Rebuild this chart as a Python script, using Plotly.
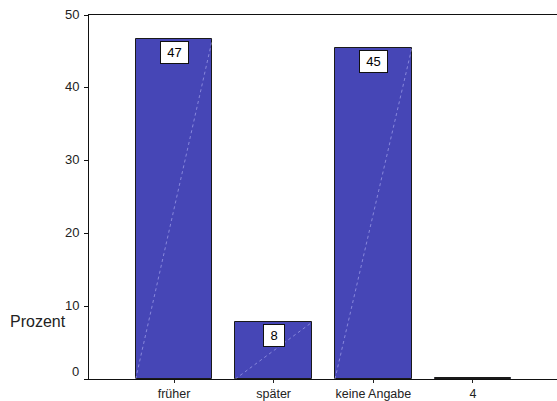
import plotly.graph_objects as go

categories = ["früher", "später", "keine Angabe", "4"]
values = [46.7, 7.8, 45.4, 0.1]
value_labels = ["47", "8", "45", ""]
y_ticks = [0, 10, 20, 30, 40, 50]
y_axis_title = "Prozent"

BAR_COLOR = "#4646B6"
BAR_WIDTH = 0.77
FONT = "Liberation Sans, Arial, sans-serif"

W, H = 557, 401
L, R, T, B = 89, 0, 15, 22
PW, PH = W - L - R, H - T - B

idx = list(range(len(categories)))

fig = go.Figure()
fig.add_trace(go.Bar(
    x=idx, y=values, width=BAR_WIDTH,
    marker=dict(color=BAR_COLOR, line=dict(color="#1a1a1a", width=1)),
    hoverinfo="skip", showlegend=False,
))

# faint diagonal pattern line inside each bar
for i, v in zip(idx, values):
    if v < 1:
        continue
    fig.add_trace(go.Scatter(
        x=[i - BAR_WIDTH / 2, i + BAR_WIDTH / 2], y=[0, v],
        mode="lines", line=dict(color="rgba(200,200,255,0.5)", width=1, dash="dot"),
        hoverinfo="skip", showlegend=False,
    ))

annotations = []
for i, v, t in zip(idx, values, value_labels):
    if not t:
        continue
    annotations.append(dict(
        x=i, y=v, xref="x", yref="y", text=t, showarrow=False,
        yanchor="top", yshift=-2,
        font=dict(family=FONT, size=13, color="black"),
        bgcolor="white", bordercolor="#111", borderwidth=1, borderpad=2,
        width=7 * len(t) + 9, height=17,
    ))

# y tick labels as annotations (the 0 label is raised above the axis)
for t in y_ticks:
    annotations.append(dict(
        x=0, xref="paper", xanchor="right", xshift=-8,
        y=t, yref="y", yanchor="middle", yshift=8 if t == 0 else 1,
        text=str(t), showarrow=False,
        font=dict(family=FONT, size=13, color="#222"),
    ))

annotations.append(dict(
    xref="paper", yref="paper", x=-(L - 8) / PW, y=(379 - 321) / PH,
    xanchor="left", yanchor="middle", text=y_axis_title, showarrow=False,
    font=dict(family=FONT, size=16, color="#222"),
))

fig.update_layout(
    width=W, height=H,
    margin=dict(l=L, r=R, t=T, b=B, pad=0),
    paper_bgcolor="white", plot_bgcolor="white",
    bargap=0,
    annotations=annotations,
    xaxis=dict(
        range=[-0.853, 3.843],
        tickvals=idx, ticktext=categories,
        ticks="outside", ticklen=3, tickcolor="#222",
        showline=True, linecolor="#111", linewidth=1, mirror=True,
        showgrid=False, zeroline=False,
        tickfont=dict(family=FONT, size=12.5, color="#222"),
        fixedrange=True,
    ),
    yaxis=dict(
        range=[0, 50],
        tickvals=y_ticks, showticklabels=False,
        ticks="outside", ticklen=4, tickcolor="#111",
        showline=True, linecolor="#111", linewidth=1,
        showgrid=False, zeroline=False,
        fixedrange=True,
    ),
)

fig.write_html(
    "out.html",
    config={"displayModeBar": False},
    post_script="document.body.style.margin='0';document.body.style.overflow='hidden';",
)
